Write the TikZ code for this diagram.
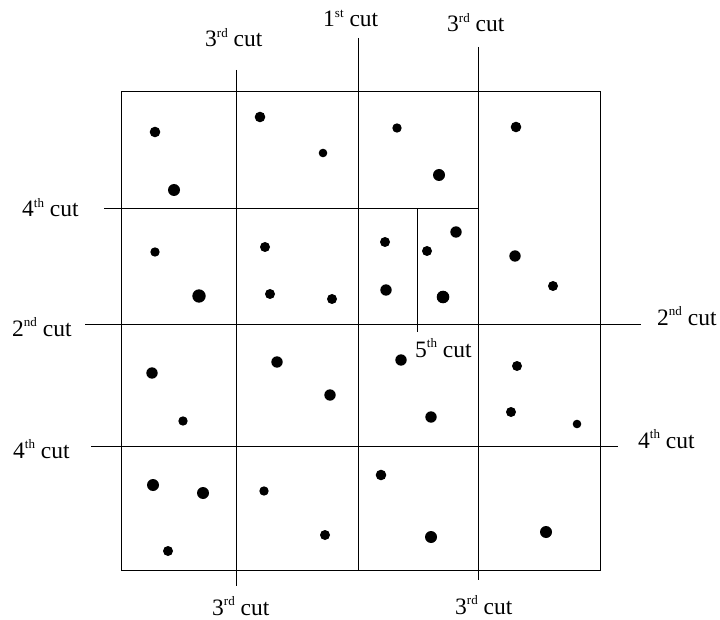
\documentclass[tikz,border=0pt]{standalone}
\usepackage{fontspec}
\setmainfont{Liberation Serif}
\usepackage{tikz}
\tikzset{
    cutline/.style={draw, line width=1pt},
    frame/.style={draw, line width=1pt},
    cutlabel/.style={anchor=base west, inner sep=0pt, font=\fontsize{23.5}{26}\selectfont},
    dot/.style={fill=black}
}
\newcommand{\cutlbl}[2]{#1\raisebox{0.42em}{\fontsize{13}{13}\selectfont #2} cut}

\begin{document}
\begin{tikzpicture}[x=1pt, y=-1pt]
    \useasboundingbox (0,0) rectangle (720,620);

    % Region being split
    \node [frame, rectangle, minimum width=479pt, minimum height=478pt, inner sep=0pt] (region) at (360.5,331) {};

    % Cuts
    \draw [cutline] (358,38) -- (358,570);   % 1st
    \draw [cutline] (85,324) -- (641,324);   % 2nd
    \draw [cutline] (236.5,70) -- (236.5,586); % 3rd, left
    \draw [cutline] (478,47) -- (478,580);   % 3rd, right
    \draw [cutline] (104,209) -- (478,209);  % 4th, upper
    \draw [cutline] (91,446) -- (618,446);   % 4th, lower
    \draw [cutline] (417,209) -- (417,332);  % 5th

    % Cut labels
    \node [cutlabel] (first) at (323,27) {\cutlbl{1}{st}};
    \node [cutlabel] (secondL) at (12,336) {\cutlbl{2}{nd}};
    \node [cutlabel] (secondR) at (657,325) {\cutlbl{2}{nd}};
    \node [cutlabel] (thirdTL) at (205,47) {\cutlbl{3}{rd}};
    \node [cutlabel] (thirdTR) at (447,32) {\cutlbl{3}{rd}};
    \node [cutlabel] (thirdBL) at (212,615) {\cutlbl{3}{rd}};
    \node [cutlabel] (thirdBR) at (455,614) {\cutlbl{3}{rd}};
    \node [cutlabel] (fourthTL) at (22,217) {\cutlbl{4}{th}};
    \node [cutlabel] (fourthBL) at (13,458) {\cutlbl{4}{th}};
    \node [cutlabel] (fourthR) at (638,448) {\cutlbl{4}{th}};
    \node [cutlabel] (fifth) at (415,357) {\cutlbl{5}{th}};

    % Points
    \foreach \px/\py/\pr in {
        155/132/5.3, 174/190/6, 260/117/5.3, 323/153/4.3, 397/128/4.7, 439/175/6, 516/127/5.3,
        155/252/4.7, 199/296/6.7, 265/247/5, 270/294/5, 332/299/5, 385/242/5, 386/290/5.7,
        427/251/5, 456/232/5.7, 443/297/6.3, 515/256/5.7, 553/286/5,
        152/373/5.7, 183/421/4.7, 277/362/5.7, 330/395/5.7, 401/360/5.7, 431/417/5.7,
        517/366/5, 511/412/5, 577/424/4.3,
        153/485/6, 203/493/6, 168/551/5, 264/491/4.7, 325/535/5, 381/475/5.3, 431/537/6, 546/532/6}
        \fill [dot] (\px,\py) circle (\pr pt);
\end{tikzpicture}
\end{document}
